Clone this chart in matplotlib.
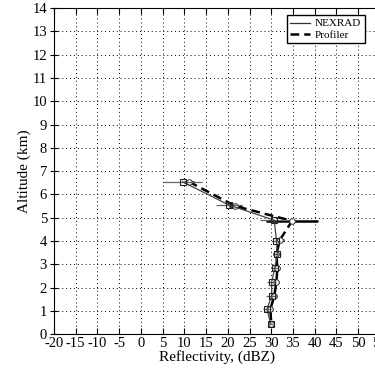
import matplotlib
matplotlib.use("Agg")
import matplotlib.pyplot as plt
from matplotlib.lines import Line2D

plt.rcParams['font.family'] = ['Liberation Serif', 'DejaVu Serif']
plt.rcParams['axes.unicode_minus'] = False

# altitudes (km) and reflectivity (dBZ)
nexrad_alt = [6.54, 5.54, 4.89, 4.00, 3.43, 2.82, 2.25, 1.65, 1.06, 0.43]
nexrad_dbz = [9.6, 20.3, 30.7, 31.2, 31.4, 30.8, 30.1, 30.1, 29.0, 29.9]
nexrad_err = [4.4, 3.0, 3.2, 0.8, 0.8, 0.8, 1.0, 1.2, 1.0, 0.6]

profiler_alt = [6.54, 5.50, 4.86, 4.05, 3.45, 2.82, 2.25, 1.65, 1.06, 0.43]
profiler_dbz = [11.1, 21.7, 34.8, 32.0, 31.2, 31.4, 31.2, 30.7, 29.8, 30.0]
profiler_err = [1.2, 1.5, 6.0, 1.0, 0.6, 0.6, 0.6, 0.6, 0.6, 0.6]

fig = plt.figure(figsize=(3.75, 3.72), dpi=100)
ax = fig.add_axes([0.144, 0.102, 0.869, 0.876])

# profiler drawn first, NEXRAD on top of it
ax.errorbar(profiler_dbz, profiler_alt, xerr=profiler_err, color='black', lw=1.8,
            ls=(0, (3.5, 2)), marker='o', ms=4, mfc='white', mec='#333333', mew=0.7,
            ecolor='black', elinewidth=1.8, capsize=0, zorder=3)
ax.errorbar(nexrad_dbz, nexrad_alt, xerr=nexrad_err, color='#444444', lw=0.9,
            marker='s', ms=5, mfc='none', mec='#222222', mew=0.8,
            ecolor='#666666', elinewidth=0.9, capsize=0, zorder=4)

ax.set_xlim(-20, 55)
ax.set_ylim(0, 14)
ax.set_xticks(range(-20, 56, 5))
ax.set_yticks(range(0, 15))
ax.tick_params(labelsize=10.5, direction='in', length=4, top=True, pad=2)
ax.tick_params(axis='y', direction='inout', length=6)
ax.grid(True, ls=(0, (1, 3)), color='black', lw=0.7)

ax.set_xlabel('Reflectivity, (dBZ)', fontsize=11, labelpad=0)
ax.set_ylabel('Altitude (km)', fontsize=11, labelpad=1)

handles = [Line2D([], [], color='#333333', lw=0.9),
           Line2D([], [], color='black', lw=1.8, ls=(0, (3.5, 2)))]
leg = ax.legend(handles, ['NEXRAD', 'Profiler'], handlelength=1.8, fontsize=8,
                loc='upper right', bbox_to_anchor=(0.97, 0.995), fancybox=False,
                framealpha=1, edgecolor='black', borderpad=0.3,
                labelspacing=0.15, handletextpad=0.4)
leg.get_frame().set_linewidth(1.0)

plt.savefig('out.png', dpi=100)
